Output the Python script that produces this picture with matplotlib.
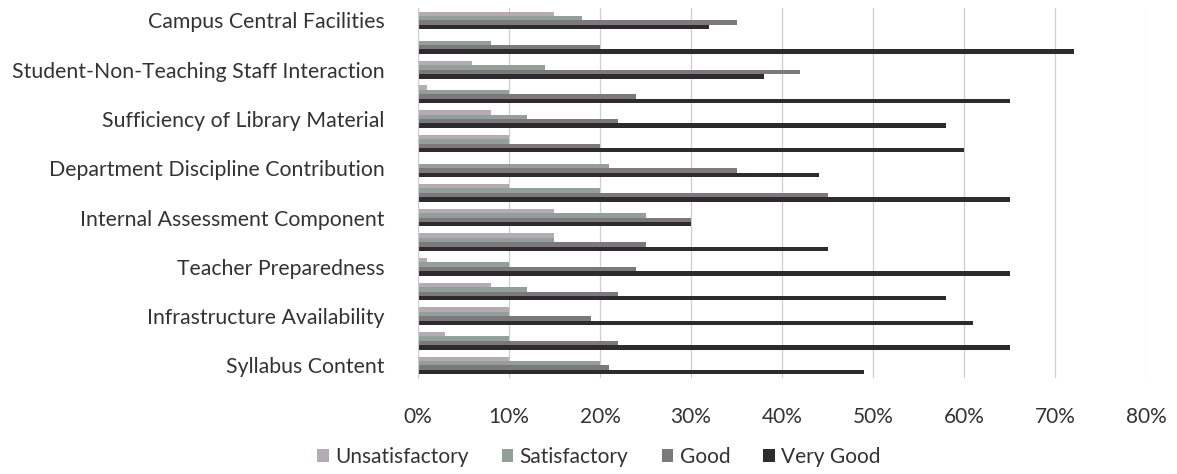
import numpy as np
import matplotlib.pyplot as plt
from matplotlib.ticker import PercentFormatter

# categories from top to bottom; only every other label is printed in the chart
categorias = ['Campus Central Facilities', '',
              'Student-Non-Teaching Staff Interaction', '',
              'Sufficiency of Library Material', '',
              'Department Discipline Contribution', '',
              'Internal Assessment Component', '',
              'Teacher Preparedness', '',
              'Infrastructure Availability', '',
              'Syllabus Content']

series = ['Unsatisfactory', 'Satisfactory', 'Good', 'Very Good']

# percentages, same order as categorias
unsatisfactory = [15, 0, 6, 1, 8, 10, 0, 10, 15, 15, 1, 8, 10, 3, 10]
satisfactory   = [18, 8, 14, 10, 12, 10, 21, 20, 25, 15, 10, 12, 10, 10, 20]
good           = [35, 20, 42, 24, 22, 20, 35, 45, 30, 25, 24, 22, 19, 22, 21]
very_good      = [32, 72, 38, 65, 58, 60, 44, 65, 30, 45, 65, 58, 61, 65, 49]

cores = ['#b5abb5', '#939f99', '#7d787c', '#2e2b2f']

plt.rcParams['font.family'] = ['Lato', 'DejaVu Sans']

fig = plt.figure(figsize=(11.77, 4.74), dpi=100)
ax = fig.add_axes([0.355, 0.203, 0.619, 0.780])

y = np.arange(len(categorias))
h = 0.18
dados = [unsatisfactory, satisfactory, good, very_good]
for i, (nome, vals, cor) in enumerate(zip(series, dados, cores)):
    ax.barh(y + (i - 1.5) * h, vals, height=h, color=cor, label=nome)

ax.set_ylim(len(categorias) - 0.5, -0.5)
ax.set_xlim(0, 80)
ax.set_xticks(np.arange(0, 81, 10))
ax.xaxis.set_major_formatter(PercentFormatter(decimals=0))
ax.set_yticks(y)
ax.set_yticklabels(categorias)

ax.tick_params(axis='x', length=0, pad=21, labelsize=15, colors='#333333')
ax.tick_params(axis='y', length=0, pad=24, labelsize=15.3, colors='#333333')

ax.grid(axis='x', color='#cdcdd4', linewidth=0.9)
ax.set_axisbelow(True)
for s in ['top', 'right', 'bottom']:
    ax.spines[s].set_visible(False)
ax.spines['left'].set_color('#cdcdd4')

fig.legend(loc='center', bbox_to_anchor=(0.509, 0.036), ncol=4, frameon=False,
           fontsize=15, handlelength=0.55, handleheight=0.55, handletextpad=0.3,
           columnspacing=1.6, labelcolor='#333333')

fig.savefig('out.png', dpi=100, facecolor='white')
